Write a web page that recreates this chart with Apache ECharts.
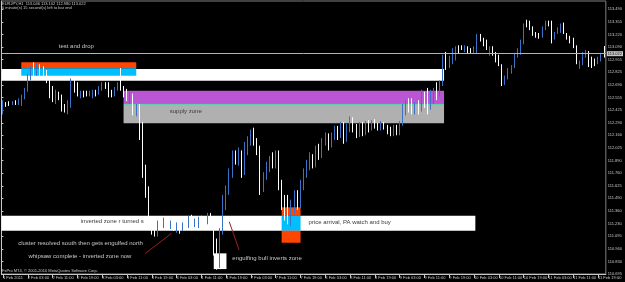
<!DOCTYPE html>
<html><head><meta charset="utf-8">
<script src="https://cdn.jsdelivr.net/npm/echarts@6/dist/echarts.min.js"></script>
<style>html,body{margin:0;padding:0;background:#000}#c{width:625px;height:282px}</style>
</head><body><div id="c"></div>
<script>
// ---- tick labels ----
const tickLabels = ['110.695','110.830','110.960','111.095','111.230','111.360','111.490','111.625','111.760','111.890','112.025','112.160','112.290','112.425','112.555','112.690','112.825','112.955','113.090','113.220','113.355','113.490'];
const timeLabels = ['1 Feb 2011','2 Feb 03:00','2 Feb 11:00','2 Feb 19:00','3 Feb 03:00','3 Feb 11:00','3 Feb 19:00','4 Feb 03:00','4 Feb 11:00','4 Feb 19:00','7 Feb 03:00','7 Feb 11:00','7 Feb 19:00','8 Feb 03:00','8 Feb 11:00','8 Feb 19:00','9 Feb 03:00','9 Feb 11:00','9 Feb 19:00','10 Feb 03:00','10 Feb 11:00','10 Feb 19:00','11 Feb 03:00','11 Feb 11:00','11 Feb 19:00'];

// ---- H1 candles (EURJPY) ----
const opens = [
112.43,112.49,112.50,112.49,112.51,112.50,112.51,112.56,112.64,112.76,
112.85,112.81,112.87,112.83,112.79,112.72,112.64,112.51,112.59,112.55,
112.47,112.41,112.49,112.70,112.68,112.57,112.61,112.61,112.59,112.57,
112.62,112.61,112.65,112.69,112.70,112.62,112.60,112.65,112.71,112.66,
112.62,112.51,112.57,112.38,112.47,112.27,111.77,111.58,111.26,111.18,
111.13,111.24,111.20,111.26,111.19,111.24,111.16,111.24,111.16,111.22,
111.20,111.29,111.21,111.20,111.29,111.24,111.24,111.32,111.23,111.03,
110.82,111.14,111.43,111.58,111.74,111.92,111.87,111.98,111.77,112.00,
112.09,112.17,112.09,112.00,111.60,111.73,111.81,111.90,111.86,111.95,
111.63,111.48,111.42,111.29,111.39,111.52,111.43,111.62,111.77,111.84,
111.92,111.86,112.00,111.94,112.08,112.15,112.05,112.14,112.22,112.15,
112.26,112.11,112.24,112.32,112.24,112.17,112.26,112.19,112.27,112.24,
112.30,112.26,112.24,112.28,112.25,112.22,112.18,112.24,112.19,112.28,
112.41,112.49,112.45,112.41,112.47,112.43,112.57,112.49,112.45,112.53,
112.62,112.60,112.70,112.98,112.89,112.93,113.00,113.08,113.10,113.06,
113.08,113.06,113.04,113.04,113.20,113.17,113.15,113.02,113.08,113.01,
112.98,112.90,112.70,112.78,112.83,112.88,113.00,113.04,113.15,113.36,
113.35,113.29,113.23,113.22,113.20,113.29,113.36,113.36,113.19,113.24,
113.25,113.32,113.23,113.19,113.17,113.09,112.88,112.92,112.99,113.04,
112.95,112.95,112.92,112.95,113.046];
const closes = [
112.49,112.48,112.49,112.51,112.50,112.53,112.56,112.64,112.79,112.83,
112.81,112.87,112.81,112.79,112.74,112.60,112.53,112.60,112.55,112.45,
112.43,112.51,112.70,112.64,112.60,112.61,112.59,112.59,112.61,112.62,
112.60,112.66,112.69,112.67,112.59,112.59,112.65,112.70,112.65,112.59,
112.55,112.59,112.41,112.47,112.27,111.77,111.60,111.24,111.16,111.14,
111.22,111.18,111.26,111.19,111.24,111.17,111.22,111.15,111.22,111.19,
111.29,111.20,111.25,111.28,111.22,111.19,111.32,111.23,111.05,110.82,
111.14,111.45,111.58,111.77,111.92,111.88,111.98,111.77,112.03,112.11,
112.17,112.09,112.00,111.60,111.73,111.84,111.90,111.86,111.96,111.63,
111.48,111.35,111.29,111.42,111.52,111.43,111.63,111.77,111.85,111.92,
111.85,112.00,111.94,112.09,112.15,112.05,112.15,112.22,112.16,112.26,
112.11,112.24,112.32,112.24,112.17,112.26,112.19,112.27,112.24,112.30,
112.26,112.24,112.28,112.25,112.22,112.18,112.24,112.19,112.28,112.45,
112.49,112.43,112.41,112.47,112.43,112.57,112.49,112.41,112.60,112.62,
112.57,112.70,112.95,112.89,112.95,113.04,113.06,113.04,113.08,113.09,
113.04,113.04,113.08,113.20,113.17,113.12,113.08,113.08,113.01,112.95,
112.90,112.72,112.78,112.85,112.88,113.00,113.06,113.15,113.31,113.32,
113.29,113.22,113.21,113.19,113.30,113.36,113.34,113.17,113.23,113.28,
113.32,113.25,113.19,113.16,113.09,112.93,112.93,113.01,113.04,112.91,
112.89,112.91,112.97,113.01,113.022];
const lows = [
112.38,112.46,112.47,112.48,112.48,112.48,112.47,112.54,112.62,112.74,
112.78,112.79,112.78,112.75,112.71,112.55,112.51,112.49,112.53,112.41,
112.40,112.38,112.45,112.61,112.57,112.55,112.56,112.57,112.57,112.55,
112.57,112.59,112.63,112.65,112.56,112.56,112.57,112.63,112.63,112.56,
112.52,112.49,112.37,112.36,112.11,111.71,111.50,111.16,111.11,111.09,
111.09,111.16,111.18,111.17,111.17,111.15,111.13,111.12,111.15,111.17,
111.18,111.18,111.19,111.18,111.20,111.17,111.22,111.21,110.89,110.74,
110.76,111.11,111.37,111.53,111.71,111.85,111.84,111.71,111.74,111.95,
112.05,112.05,111.95,111.53,111.56,111.69,111.77,111.81,111.81,111.58,
111.37,111.26,111.22,111.20,111.33,111.37,111.39,111.58,111.71,111.79,
111.81,111.82,111.90,111.92,112.05,112.00,112.03,112.11,112.11,112.13,
112.07,112.09,112.19,112.19,112.13,112.14,112.15,112.16,112.19,112.21,
112.23,112.21,112.21,112.22,112.17,112.15,112.15,112.16,112.16,112.26,
112.37,112.40,112.38,112.38,112.38,112.41,112.45,112.38,112.43,112.49,
112.53,112.57,112.68,112.85,112.87,112.91,112.95,113.02,113.06,113.04,
113.02,113.02,113.02,113.02,113.15,113.10,113.06,113.00,113.00,112.93,
112.89,112.68,112.69,112.75,112.81,112.87,112.98,113.01,113.12,113.30,
113.27,113.21,113.19,113.18,113.19,113.27,113.31,113.13,113.17,113.23,
113.24,113.23,113.17,113.13,113.08,112.91,112.86,112.90,112.98,112.88,
112.87,112.89,112.91,112.94,112.980];
const highs = [
112.53,112.51,112.52,112.52,112.53,112.55,112.59,112.66,112.81,112.89,
112.93,112.92,112.91,112.89,112.85,112.76,112.68,112.64,112.62,112.59,
112.49,112.53,112.76,112.74,112.72,112.63,112.63,112.63,112.63,112.64,
112.64,112.68,112.72,112.72,112.72,112.64,112.67,112.72,112.87,112.68,
112.65,112.62,112.60,112.49,112.49,112.30,111.85,111.62,111.29,111.22,
111.26,111.29,111.29,111.29,111.26,111.25,111.24,111.26,111.24,111.23,
111.31,111.32,111.28,111.30,111.31,111.29,111.34,111.34,111.28,111.07,
111.18,111.53,111.63,111.81,112.00,112.00,112.03,112.00,112.09,112.15,
112.22,112.24,112.13,112.05,111.77,111.88,111.94,111.98,112.00,112.00,
111.69,111.53,111.53,111.48,111.58,111.58,111.69,111.81,111.90,111.98,
111.96,112.05,112.07,112.13,112.19,112.18,112.19,112.26,112.26,112.30,
112.30,112.28,112.36,112.35,112.28,112.30,112.30,112.31,112.32,112.32,
112.33,112.29,112.31,112.30,112.27,112.25,112.27,112.27,112.31,112.49,
112.53,112.55,112.55,112.51,112.53,112.64,112.62,112.66,112.64,112.66,
112.72,112.74,113.01,113.04,113.00,113.08,113.10,113.11,113.11,113.11,
113.10,113.08,113.10,113.23,113.23,113.19,113.17,113.10,113.10,113.04,
113.01,112.91,112.79,112.87,112.90,113.02,113.08,113.17,113.34,113.38,
113.37,113.31,113.25,113.24,113.31,113.37,113.37,113.37,113.25,113.30,
113.34,113.35,113.24,113.21,113.19,113.11,112.95,113.04,113.06,113.05,
112.99,112.97,112.99,113.03,113.102];
const bidPrice = 113.022;

// ---- drawn zones: bar span and price span ----
const zoneStart = [0, 6.4, 6.4, 39.4, 39.4, 39.4, 0, 90.4, 90.4, 90.4, 68.5];
const zoneEnd   = [142.8, 43.5, 43.5, 142.8, 142.8, 142.8, 152.9, 96.5, 96.5, 96.5, 72.6];
const zoneLow   = [112.735, 112.867, 112.789, 112.497, 112.479, 112.286, 111.152, 111.310, 111.152, 111.025, 110.747];
const zoneHigh  = [112.860, 112.930, 112.867, 112.630, 112.497, 112.479, 111.310, 111.399, 111.310, 111.152, 110.913];

// ---- trend-line annotations ----
const segBar0 = [46.4, 73.5], segPrice0 = [110.913, 111.247];
const segBar1 = [54.9, 76.7], segPrice1 = [111.124, 110.948];

// ---- text annotations ----
const noteTexts = ['test and drop','supply zone','inverted zone r turned s','cluster resolved south then gets engulfed north','whipsaw complete - inverted zone now','engulfing bull inverts zone','price arrival, PA watch and buy'];
const noteBars = [18.5, 54.3, 25.6, 5.4, 8.7, 74.5, 99.1];
const notePrices = [113.102, 112.416, 111.254, 111.017, 110.885, 110.864, 111.244];

// ---------------------------------------------------------------
const N = opens.length;
const Y0 = parseFloat(tickLabels[0]);
const STEP = (parseFloat(tickLabels[tickLabels.length - 1]) - Y0) / (tickLabels.length - 1);
const toU = p => (p - Y0) / STEP;

const zoneColors = ['#ffffff','#ff4500','#00bfff','#ba55d3','#66cdaa','#b0b0b0','#ffffff','#ff4500','#00bfff','#ff4500','#ffffff'];
const noteColors = ['#c8c8c8','#3a3a3a','#3a3a3a','#c8c8c8','#c8c8c8','#c8c8c8','#3a3a3a'];
const BULL = '#3a72c8', BEAR = '#ffffff', AX = '#c8c8c8';
const FONT = '"Liberation Sans", Arial, sans-serif';

const categories = opens.map((_, i) => String(i));
const candleData = opens.map((o, i) => [toU(o), toU(closes[i]), toU(lows[i]), toU(highs[i])]);
const zoneData = zoneStart.map((s, i) => [s, zoneEnd[i], toU(zoneLow[i]), toU(zoneHigh[i])]);
const segData = segBar0.map((b, i) => [b, toU(segPrice0[i]), segBar1[i], toU(segPrice1[i])]);
const noteData = noteBars.map((b, i) => [b, toU(notePrices[i]), i]);

const chart = echarts.init(document.getElementById('c'), null, {renderer: 'canvas'});
chart.setOption({
  backgroundColor: '#000000',
  animation: false,
  grid: {left: 0, right: 15, top: 1, bottom: 8, show: true, borderColor: '#808080', borderWidth: 1, backgroundColor: 'transparent'},
  xAxis: [{
    type: 'category', data: categories, boundaryGap: true,
    axisLine: {show: true, lineStyle: {color: AX, width: 1}},
    axisTick: {show: true, alignWithLabel: true, length: 4, interval: i => i % 8 === 0, lineStyle: {color: AX}},
    axisLabel: {show: true, interval: i => i % 8 === 0, formatter: v => { const i = +v; return i % 8 === 0 ? (timeLabels[i / 8] || '') : ''; },
      align: 'left', margin: 2, fontSize: 4, color: AX, fontFamily: FONT},
    splitLine: {show: false}
  }, {
    type: 'value', min: 0, max: N, show: false
  }],
  yAxis: [{
    type: 'value', position: 'right', min: 0, max: 21.66, interval: 1,
    axisLine: {show: true, lineStyle: {color: AX, width: 1}},
    axisTick: {show: true, length: 2, lineStyle: {color: AX}},
    axisLabel: {show: true, margin: 2, fontSize: 4, color: AX, fontFamily: FONT, showMaxLabel: false,
      formatter: v => { const k = Math.round(v); return Math.abs(v - k) < 1e-6 ? (tickLabels[k] || '') : ''; }},
    splitLine: {show: false}
  }],
  graphic: [
    {type: 'text', left: 2, top: 2, style: {text: 'EURJPY,H1  113.046 113.102 112.980 113.022', fill: '#c8c8c8', font: '4px ' + FONT}},
    {type: 'text', left: 2, top: 5.8, style: {text: '0 minute(s) 15 second(s) left to bar end', fill: '#c8c8c8', font: '4px ' + FONT}},
    {type: 'text', left: 2, top: 268.5, style: {text: 'FxPro MT4, \u00a9 2001-2010 MetaQuotes Software Corp.', fill: '#c8c8c8', font: '4px ' + FONT}}
  ],
  series: [
    {
      type: 'custom', xAxisIndex: 1, yAxisIndex: 0, z: 1, silent: true, data: zoneData,
      renderItem: (params, api) => {
        const a = api.coord([api.value(0), api.value(3)]);
        const b = api.coord([api.value(1), api.value(2)]);
        return {type: 'rect', shape: {x: a[0], y: a[1], width: b[0] - a[0], height: b[1] - a[1]},
          style: {fill: zoneColors[params.dataIndex]}};
      }
    },
    {
      type: 'candlestick', xAxisIndex: 0, yAxisIndex: 0, z: 3, data: candleData, barWidth: 1,
      itemStyle: {color: BULL, color0: BEAR, borderColor: BULL, borderColor0: BEAR, borderWidth: 1},
      markLine: {
        silent: true, symbol: 'none', animation: false,
        data: [{yAxis: toU(bidPrice)}],
        lineStyle: {color: '#b4b4b4', width: 1, type: 'solid'},
        label: {show: true, position: 'end', formatter: bidPrice.toFixed(3), distance: 1,
          fontSize: 4, color: '#000', backgroundColor: '#c8c8c8', padding: [1, 1, 0, 1], fontFamily: FONT}
      }
    },
    {
      type: 'custom', xAxisIndex: 1, yAxisIndex: 0, z: 4, silent: true, data: segData,
      renderItem: (params, api) => {
        const a = api.coord([api.value(0), api.value(1)]);
        const b = api.coord([api.value(2), api.value(3)]);
        return {type: 'line', shape: {x1: a[0], y1: a[1], x2: b[0], y2: b[1]}, style: {stroke: '#9b2020', lineWidth: 1}};
      }
    },
    {
      type: 'custom', xAxisIndex: 1, yAxisIndex: 0, z: 5, silent: true, data: noteData,
      renderItem: (params, api) => {
        const a = api.coord([api.value(0), api.value(1)]);
        const i = api.value(2);
        return {type: 'text', x: a[0], y: a[1], style: {text: noteTexts[i], fill: noteColors[i], font: '6px ' + FONT, align: 'left', verticalAlign: 'middle'}};
      }
    }
  ]
});
</script>
</body></html>
